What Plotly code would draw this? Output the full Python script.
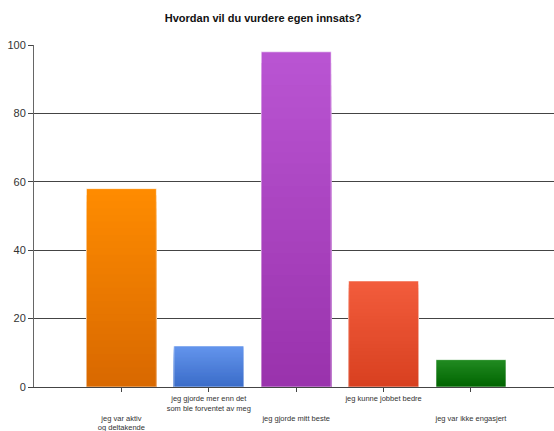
import plotly.graph_objects as go

# Survey answers and counts
categories = [
    "jeg var aktiv og deltakende",
    "jeg gjorde mer enn det som ble forventet av meg",
    "jeg gjorde mitt beste",
    "jeg kunne jobbet bedre",
    "jeg var ikke engasjert",
]
tick_labels = [
    "\u00a0<br>\u00a0<br>jeg var aktiv<br>og deltakende",
    "jeg gjorde mer enn det<br>som ble forventet av meg",
    "\u00a0<br>\u00a0<br>jeg gjorde mitt beste",
    "jeg kunne jobbet bedre",
    "\u00a0<br>\u00a0<br>jeg var ikke engasjert",
]
values = [58, 12, 98, 31, 8]
y_ticks = [0, 20, 40, 60, 80, 100]

# Bar gradient colours (top -> bottom)
top_colors = [(255, 140, 0), (100, 149, 237), (186, 85, 211), (242, 92, 60), (34, 139, 34)]
bottom_colors = [(216, 104, 0), (58, 108, 200), (153, 50, 172), (216, 64, 32), (0, 100, 0)]

N_LAYERS = 30


def mix(c1, c2, t):
    return "rgb({},{},{})".format(*[round(a + (b - a) * t) for a, b in zip(c1, c2)])


fig = go.Figure()

# Vertical gradient: overlapping bars from zero, tallest (lightest) first,
# each shorter layer a little darker, so no seams appear between layers
for k in range(N_LAYERS, 0, -1):
    frac = k / N_LAYERS
    t = (k - 0.5) / N_LAYERS  # 0 at bottom, 1 at top
    fig.add_trace(go.Bar(
        x=categories,
        y=[v * frac for v in values],
        marker=dict(color=[mix(b, tc, t) for tc, b in zip(top_colors, bottom_colors)],
                    line=dict(width=0)),
        hoverinfo="skip",
        showlegend=False,
    ))

# Thin light outline around every bar
fig.add_trace(go.Bar(
    x=categories,
    y=values,
    marker=dict(color="rgba(0,0,0,0)", line=dict(color="rgba(255,255,255,0.55)", width=1)),
    showlegend=False,
    hovertemplate="%{x}: %{y}<extra></extra>",
))

fig.update_layout(
    barmode="overlay",
    bargap=0.2,
    width=554,
    height=431,
    margin=dict(l=34, r=0, t=45, b=44),
    paper_bgcolor="white",
    plot_bgcolor="white",
    font=dict(family="Liberation Sans, Arial, sans-serif", color="#333333"),
    title=dict(
        text="<b>Hvordan vil du vurdere egen innsats?</b>",
        x=0.475, xanchor="center", y=0.958, yanchor="middle",
        font=dict(size=11, color="#111111"),
    ),
)

fig.update_xaxes(
    type="category",
    categoryorder="array",
    categoryarray=categories,
    range=[-1, 4.95],
    tickvals=categories,
    ticktext=tick_labels,
    tickfont=dict(size=7.5, color="#333333"),
    ticks="outside",
    ticklen=4,
    tickcolor="#444444",
    showline=True,
    linecolor="#444444",
    linewidth=1,
    showgrid=False,
    tickangle=0,
)

fig.update_yaxes(
    range=[0, 100],
    tickvals=y_ticks,
    tickfont=dict(size=11, color="#333333"),
    ticks="outside",
    ticklen=5,
    tickcolor="#444444",
    showline=True,
    linecolor="#666666",
    linewidth=1,
    showgrid=True,
    gridcolor="#444444",
    gridwidth=1,
    zeroline=False,
)

fig.write_html("out.html")
